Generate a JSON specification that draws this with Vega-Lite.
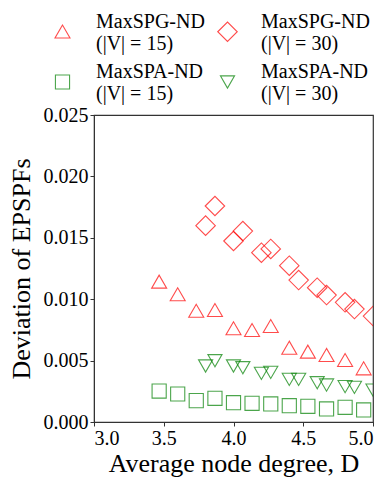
{
  "$schema": "https://vega.github.io/schema/vega-lite/v6.json",
  "width": 279,
  "height": 307,
  "autosize": "none",
  "padding": {"left": 94, "top": 115, "right": 15, "bottom": 58},
  "config": {
    "font": "Liberation Serif",
    "view": {"stroke": "#333333", "strokeWidth": 1.2},
    "axis": {"grid": false, "domainColor": "#333333", "tickColor": "#333333", "labelColor": "#000000", "titleColor": "#000000", "labelFont": "Liberation Serif", "titleFont": "Liberation Serif", "labelFontSize": 20, "titleFontSize": 26, "titleFontWeight": "normal", "tickSize": 4, "labelPadding": 2}
  },
  "data": {
    "values": [
      {"D": 3.467, "dev": 0.01143, "series": "MaxSPG-ND (|V| = 15)"},
      {"D": 3.600, "dev": 0.0104, "series": "MaxSPG-ND (|V| = 15)"},
      {"D": 3.733, "dev": 0.00906, "series": "MaxSPG-ND (|V| = 15)"},
      {"D": 3.867, "dev": 0.00912, "series": "MaxSPG-ND (|V| = 15)"},
      {"D": 4.000, "dev": 0.00763, "series": "MaxSPG-ND (|V| = 15)"},
      {"D": 4.133, "dev": 0.00749, "series": "MaxSPG-ND (|V| = 15)"},
      {"D": 4.267, "dev": 0.00782, "series": "MaxSPG-ND (|V| = 15)"},
      {"D": 4.400, "dev": 0.00605, "series": "MaxSPG-ND (|V| = 15)"},
      {"D": 4.533, "dev": 0.00573, "series": "MaxSPG-ND (|V| = 15)"},
      {"D": 4.667, "dev": 0.00546, "series": "MaxSPG-ND (|V| = 15)"},
      {"D": 4.800, "dev": 0.00505, "series": "MaxSPG-ND (|V| = 15)"},
      {"D": 4.933, "dev": 0.00437, "series": "MaxSPG-ND (|V| = 15)"},
      {"D": 3.800, "dev": 0.01599, "series": "MaxSPG-ND (|V| = 30)"},
      {"D": 3.867, "dev": 0.01759, "series": "MaxSPG-ND (|V| = 30)"},
      {"D": 4.000, "dev": 0.01474, "series": "MaxSPG-ND (|V| = 30)"},
      {"D": 4.067, "dev": 0.01555, "series": "MaxSPG-ND (|V| = 30)"},
      {"D": 4.200, "dev": 0.01379, "series": "MaxSPG-ND (|V| = 30)"},
      {"D": 4.267, "dev": 0.01409, "series": "MaxSPG-ND (|V| = 30)"},
      {"D": 4.400, "dev": 0.01273, "series": "MaxSPG-ND (|V| = 30)"},
      {"D": 4.467, "dev": 0.01156, "series": "MaxSPG-ND (|V| = 30)"},
      {"D": 4.600, "dev": 0.01094, "series": "MaxSPG-ND (|V| = 30)"},
      {"D": 4.667, "dev": 0.01034, "series": "MaxSPG-ND (|V| = 30)"},
      {"D": 4.800, "dev": 0.00975, "series": "MaxSPG-ND (|V| = 30)"},
      {"D": 4.867, "dev": 0.0092, "series": "MaxSPG-ND (|V| = 30)"},
      {"D": 5.000, "dev": 0.00863, "series": "MaxSPG-ND (|V| = 30)"},
      {"D": 3.467, "dev": 0.00252, "series": "MaxSPA-ND (|V| = 15)"},
      {"D": 3.600, "dev": 0.00228, "series": "MaxSPA-ND (|V| = 15)"},
      {"D": 3.733, "dev": 0.00174, "series": "MaxSPA-ND (|V| = 15)"},
      {"D": 3.867, "dev": 0.00193, "series": "MaxSPA-ND (|V| = 15)"},
      {"D": 4.000, "dev": 0.00157, "series": "MaxSPA-ND (|V| = 15)"},
      {"D": 4.133, "dev": 0.00152, "series": "MaxSPA-ND (|V| = 15)"},
      {"D": 4.267, "dev": 0.00147, "series": "MaxSPA-ND (|V| = 15)"},
      {"D": 4.400, "dev": 0.00133, "series": "MaxSPA-ND (|V| = 15)"},
      {"D": 4.533, "dev": 0.00128, "series": "MaxSPA-ND (|V| = 15)"},
      {"D": 4.667, "dev": 0.00106, "series": "MaxSPA-ND (|V| = 15)"},
      {"D": 4.800, "dev": 0.0012, "series": "MaxSPA-ND (|V| = 15)"},
      {"D": 4.933, "dev": 0.00098, "series": "MaxSPA-ND (|V| = 15)"},
      {"D": 3.800, "dev": 0.00456, "series": "MaxSPA-ND (|V| = 30)"},
      {"D": 3.867, "dev": 0.00499, "series": "MaxSPA-ND (|V| = 30)"},
      {"D": 4.000, "dev": 0.00456, "series": "MaxSPA-ND (|V| = 30)"},
      {"D": 4.067, "dev": 0.00442, "series": "MaxSPA-ND (|V| = 30)"},
      {"D": 4.200, "dev": 0.00396, "series": "MaxSPA-ND (|V| = 30)"},
      {"D": 4.267, "dev": 0.00404, "series": "MaxSPA-ND (|V| = 30)"},
      {"D": 4.400, "dev": 0.00347, "series": "MaxSPA-ND (|V| = 30)"},
      {"D": 4.467, "dev": 0.00347, "series": "MaxSPA-ND (|V| = 30)"},
      {"D": 4.600, "dev": 0.0032, "series": "MaxSPA-ND (|V| = 30)"},
      {"D": 4.667, "dev": 0.00301, "series": "MaxSPA-ND (|V| = 30)"},
      {"D": 4.800, "dev": 0.00288, "series": "MaxSPA-ND (|V| = 30)"},
      {"D": 4.867, "dev": 0.00282, "series": "MaxSPA-ND (|V| = 30)"},
      {"D": 5.000, "dev": 0.0026, "series": "MaxSPA-ND (|V| = 30)"}
    ]
  },
  "mark": {"type": "point", "filled": false, "strokeWidth": 1.1, "clip": true},
  "encoding": {
    "x": {
      "field": "D", "type": "quantitative",
      "scale": {"domain": [3.0, 5.0], "nice": false, "zero": false},
      "axis": {"values": [3.0, 3.5, 4.0, 4.5, 5.0], "format": ".1f", "title": "Average node degree, D", "titlePadding": 2}
    },
    "y": {
      "field": "dev", "type": "quantitative",
      "scale": {"domain": [0, 0.025], "nice": false},
      "axis": {"values": [0, 0.005, 0.01, 0.015, 0.02, 0.025], "format": ".3f", "title": "Deviation of EPSPFs", "titlePadding": 9}
    },
    "color": {
      "field": "series", "type": "nominal",
      "scale": {
        "domain": ["MaxSPG-ND (|V| = 15)", "MaxSPG-ND (|V| = 30)", "MaxSPA-ND (|V| = 15)", "MaxSPA-ND (|V| = 30)"],
        "range": ["#ff0000", "#ff0000", "#008000", "#008000"]
      },
      "legend": {
        "orient": "none", "legendX": -42, "legendY": -94, "columns": 2, "direction": "horizontal",
        "title": null, "labelFontSize": 20, "labelFont": "Liberation Serif", "labelFontWeight": "normal", "labelColor": "#000000",
        "labelBaseline": "bottom",
        "labelExpr": "[slice(datum.label, 0, 9), slice(datum.label, 10)]",
        "labelOffset": 23, "columnPadding": 10, "rowPadding": 8, "symbolStrokeWidth": 1.1, "labelLimit": 200
      }
    },
    "size": {
      "field": "series", "type": "nominal",
      "scale": {
        "type": "ordinal",
        "domain": ["MaxSPG-ND (|V| = 15)", "MaxSPG-ND (|V| = 30)", "MaxSPA-ND (|V| = 15)", "MaxSPA-ND (|V| = 30)"],
        "range": [225, 380, 200, 200]
      }
    },
    "shape": {
      "field": "series", "type": "nominal",
      "scale": {
        "domain": ["MaxSPG-ND (|V| = 15)", "MaxSPG-ND (|V| = 30)", "MaxSPA-ND (|V| = 15)", "MaxSPA-ND (|V| = 30)"],
        "range": ["triangle-up", "diamond", "square", "triangle-down"]
      }
    }
  }
}
